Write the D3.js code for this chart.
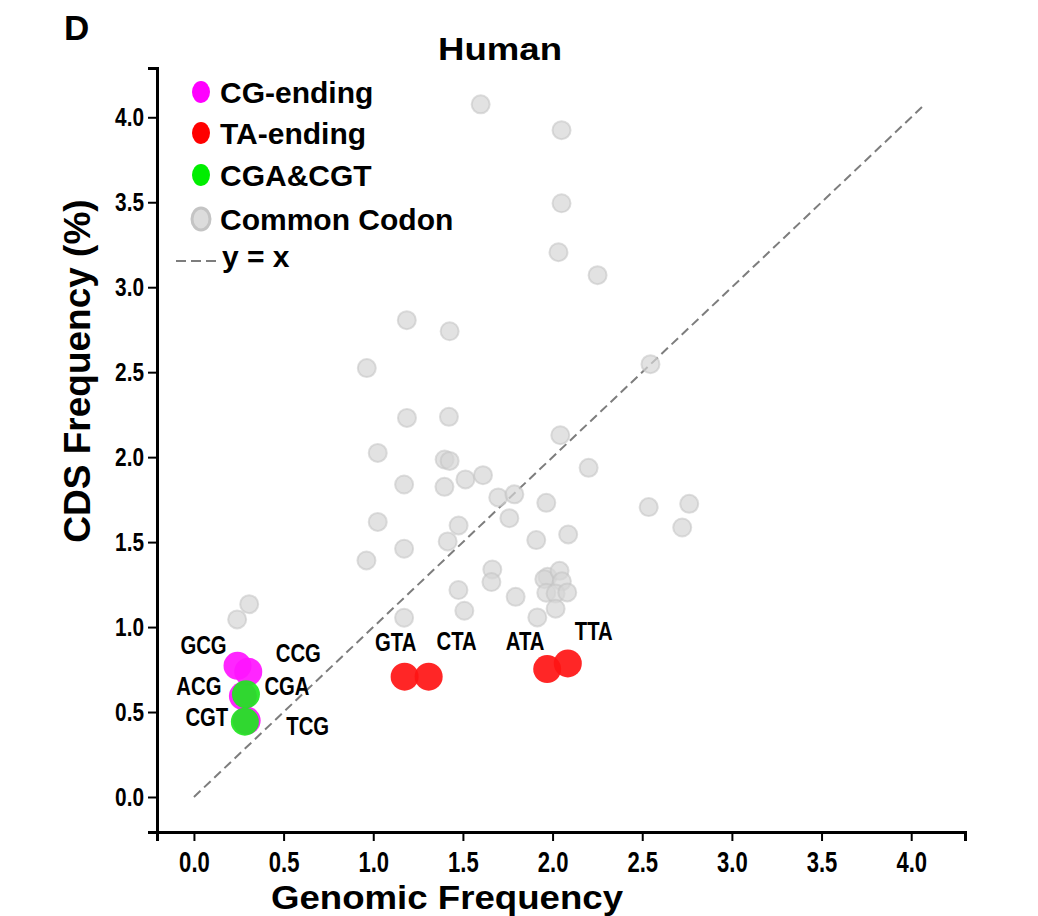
<!DOCTYPE html>
<head>
    <script src="https://d3js.org/d3.v7.min.js"></script>
</head>
<body style="margin:0; background:#fff">
    <svg width="1038" height="916"></svg>
    <script>
        // Common codons (genomic %, CDS %)
        var commonX = [1.599, 2.050, 2.050, 2.033, 2.251, 1.187, 1.426, 0.964, 2.546, 1.188,
                       1.422, 2.043, 1.025, 1.398, 1.426, 2.201, 1.514, 1.612, 1.172, 1.397,
                       1.697, 1.787, 1.965, 2.536, 2.762, 1.759, 1.025, 1.476, 2.723, 2.087,
                       1.909, 1.415, 1.172, 0.962, 1.664, 1.659, 1.972, 1.954, 2.039, 2.052,
                       1.965, 2.017, 2.082, 2.017, 1.475, 1.794, 1.508, 1.915, 1.172, 0.308, 0.241];
        var commonY = [4.076, 3.924, 3.494, 3.206, 3.071, 2.806, 2.741, 2.524, 2.547, 2.231,
                       2.237, 2.129, 2.025, 1.986, 1.978, 1.937, 1.869, 1.894, 1.839, 1.825,
                       1.763, 1.781, 1.731, 1.706, 1.725, 1.641, 1.619, 1.598, 1.586, 1.545,
                       1.512, 1.504, 1.461, 1.392, 1.339, 1.265, 1.296, 1.282, 1.331, 1.269,
                       1.202, 1.198, 1.204, 1.108, 1.218, 1.178, 1.096, 1.057, 1.055, 1.135, 1.045];

        var cgCodons = ["GCG", "CCG", "ACG", "TCG"];
        var cgX = [0.243, 0.303, 0.273, 0.294];
        var cgY = [0.772, 0.737, 0.594, 0.450];

        var taCodons = ["GTA", "CTA", "ATA", "TTA"];
        var taX = [1.175, 1.309, 1.970, 2.085];
        var taY = [0.708, 0.708, 0.753, 0.786];

        var cgaCodons = ["CGA", "CGT"];
        var cgaX = [0.290, 0.284];
        var cgaY = [0.604, 0.443];

        var tickValues = [0, 0.5, 1, 1.5, 2, 2.5, 3, 3.5, 4];

        // label offsets from the point, in pixels
        var labelOffset = {
            GCG: [-34, -12], CCG: [50, -10], ACG: [-44, -1], TCG: [61, 14],
            CGA: [41, 1], CGT: [-38, 4],
            GTA: [-9, -26], CTA: [28, -27], ATA: [-22, -19], TTA: [26, -23]
        };

        var WIDE = "'Liberation Sans', Arial, sans-serif";

        // condensed look: shrink each text horizontally
        function squeeze(sel, k) {
            sel.each(function() {
                var w = this.getComputedTextLength();
                d3.select(this)
                    .attr("textLength", w * k)
                    .attr("lengthAdjust", "spacingAndGlyphs");
            });
        }

        var svg = d3.select("svg");

        var x = d3.scaleLinear().domain([-0.206, 4.3]).range([157, 965]);
        var y = d3.scaleLinear().domain([-0.206, 4.29]).range([832, 68]);

        // y = x reference
        svg.append("line")
            .attr("x1", x(0)).attr("y1", y(0))
            .attr("x2", x(4.06)).attr("y2", y(4.06))
            .style("stroke", "#7d7d7d")
            .style("stroke-width", 2)
            .style("stroke-dasharray", "9,5");

        // Common codons
        svg.append("g")
            .selectAll("circle")
            .data(d3.range(commonX.length))
            .enter().append("circle")
            .attr("cx", function(i) { return x(commonX[i]); })
            .attr("cy", function(i) { return y(commonY[i]); })
            .attr("r", 9)
            .style("fill", "#d6d6d6")
            .style("fill-opacity", 0.7)
            .style("stroke", "#c2c2c2")
            .style("stroke-opacity", 0.55)
            .style("stroke-width", 2);

        function drawGroup(names, xs, ys, color) {
            svg.append("g")
                .selectAll("circle")
                .data(names)
                .enter().append("circle")
                .attr("cx", function(d, i) { return x(xs[i]); })
                .attr("cy", function(d, i) { return y(ys[i]); })
                .attr("r", 14)
                .style("fill", color)
                .style("fill-opacity", 0.92);
        }

        function drawLabels(names, xs, ys) {
            svg.append("g")
                .selectAll("text")
                .data(names)
                .enter().append("text")
                .attr("x", function(d, i) { return x(xs[i]) + labelOffset[d][0]; })
                .attr("y", function(d, i) { return y(ys[i]) + labelOffset[d][1]; })
                .attr("text-anchor", "middle")
                .style("font-family", WIDE)
                .style("font-weight", "bold")
                .style("font-size", "26px")
                .text(function(d) { return d; })
                .call(squeeze, 0.78);
        }

        drawGroup(cgCodons, cgX, cgY, "#ff14ff");
        drawGroup(taCodons, taX, taY, "#ff1414");
        drawGroup(cgaCodons, cgaX, cgaY, "#1ee61e");
        drawLabels(cgCodons, cgX, cgY);
        drawLabels(taCodons, taX, taY);
        drawLabels(cgaCodons, cgaX, cgaY);

        // Axes
        var xAxis = svg.append("g")
            .attr("transform", "translate(0,832)")
            .call(d3.axisBottom(x)
                .tickValues(tickValues)
                .tickFormat(d3.format(".1f"))
                .tickSizeOuter(0)
                .tickSize(9)
                .tickPadding(10));

        var yAxis = svg.append("g")
            .attr("transform", "translate(157,0)")
            .call(d3.axisLeft(y)
                .tickValues(tickValues)
                .tickFormat(d3.format(".1f"))
                .tickSizeOuter(0)
                .tickSize(9)
                .tickPadding(4));

        [xAxis, yAxis].forEach(function(a) {
            a.select(".domain").style("stroke", "#000").style("stroke-width", 3);
            a.selectAll(".tick line").style("stroke", "#000").style("stroke-width", 2);
            a.selectAll("text")
                .style("font-family", WIDE)
                .style("font-weight", "bold")
                .style("fill", "#000");
        });
        xAxis.selectAll("text").style("font-size", "29px").call(squeeze, 0.76);
        yAxis.selectAll("text").style("font-size", "26px").call(squeeze, 0.8);

        // Titles
        svg.append("text")
            .attr("x", 447).attr("y", 909)
            .attr("text-anchor", "middle")
            .attr("textLength", 352)
            .attr("lengthAdjust", "spacingAndGlyphs")
            .style("font-family", WIDE).style("font-weight", "bold").style("font-size", "33px")
            .text("Genomic Frequency");

        svg.append("text")
            .attr("transform", "translate(90,371) rotate(-90)")
            .attr("text-anchor", "middle")
            .style("font-family", WIDE).style("font-weight", "bold").style("font-size", "37px")
            .text("CDS Frequency (%)");

        svg.append("text")
            .attr("x", 500).attr("y", 60)
            .attr("text-anchor", "middle")
            .attr("textLength", 124)
            .attr("lengthAdjust", "spacingAndGlyphs")
            .style("font-family", WIDE).style("font-weight", "bold").style("font-size", "31px")
            .text("Human");

        svg.append("text")
            .attr("x", 64).attr("y", 40)
            .style("font-family", WIDE).style("font-weight", "bold").style("font-size", "35px")
            .text("D");

        // Legend
        var legendItems = [
            { label: "CG-ending", color: "#ff00ff", cy: 92 },
            { label: "TA-ending", color: "#ff0000", cy: 133 },
            { label: "CGA&CGT", color: "#00ee00", cy: 175 },
            { label: "Common Codon", color: "#dcdcdc", cy: 219 }
        ];

        var legend = svg.append("g").attr("class", "legend");

        legend.selectAll("ellipse")
            .data(legendItems)
            .enter().append("ellipse")
            .attr("cx", 201)
            .attr("cy", function(d) { return d.cy; })
            .attr("rx", 9)
            .attr("ry", 11)
            .style("fill", function(d) { return d.color; })
            .style("stroke", function(d, i) { return i == 3 ? "#c4c4c4" : "none"; })
            .style("stroke-width", 3);

        legend.selectAll("text.item")
            .data(legendItems)
            .enter().append("text")
            .attr("class", "item")
            .attr("x", 220)
            .attr("y", function(d) { return d.cy + 11; })
            .style("font-family", WIDE).style("font-weight", "bold").style("font-size", "30px")
            .text(function(d) { return d.label; });

        legend.append("line")
            .attr("x1", 176).attr("x2", 216)
            .attr("y1", 261).attr("y2", 261)
            .style("stroke", "#7d7d7d")
            .style("stroke-width", 2)
            .style("stroke-dasharray", "10,5");

        legend.append("text")
            .attr("x", 222).attr("y", 267)
            .style("font-family", WIDE).style("font-weight", "bold").style("font-size", "30px")
            .text("y = x");
    </script>
</body>
